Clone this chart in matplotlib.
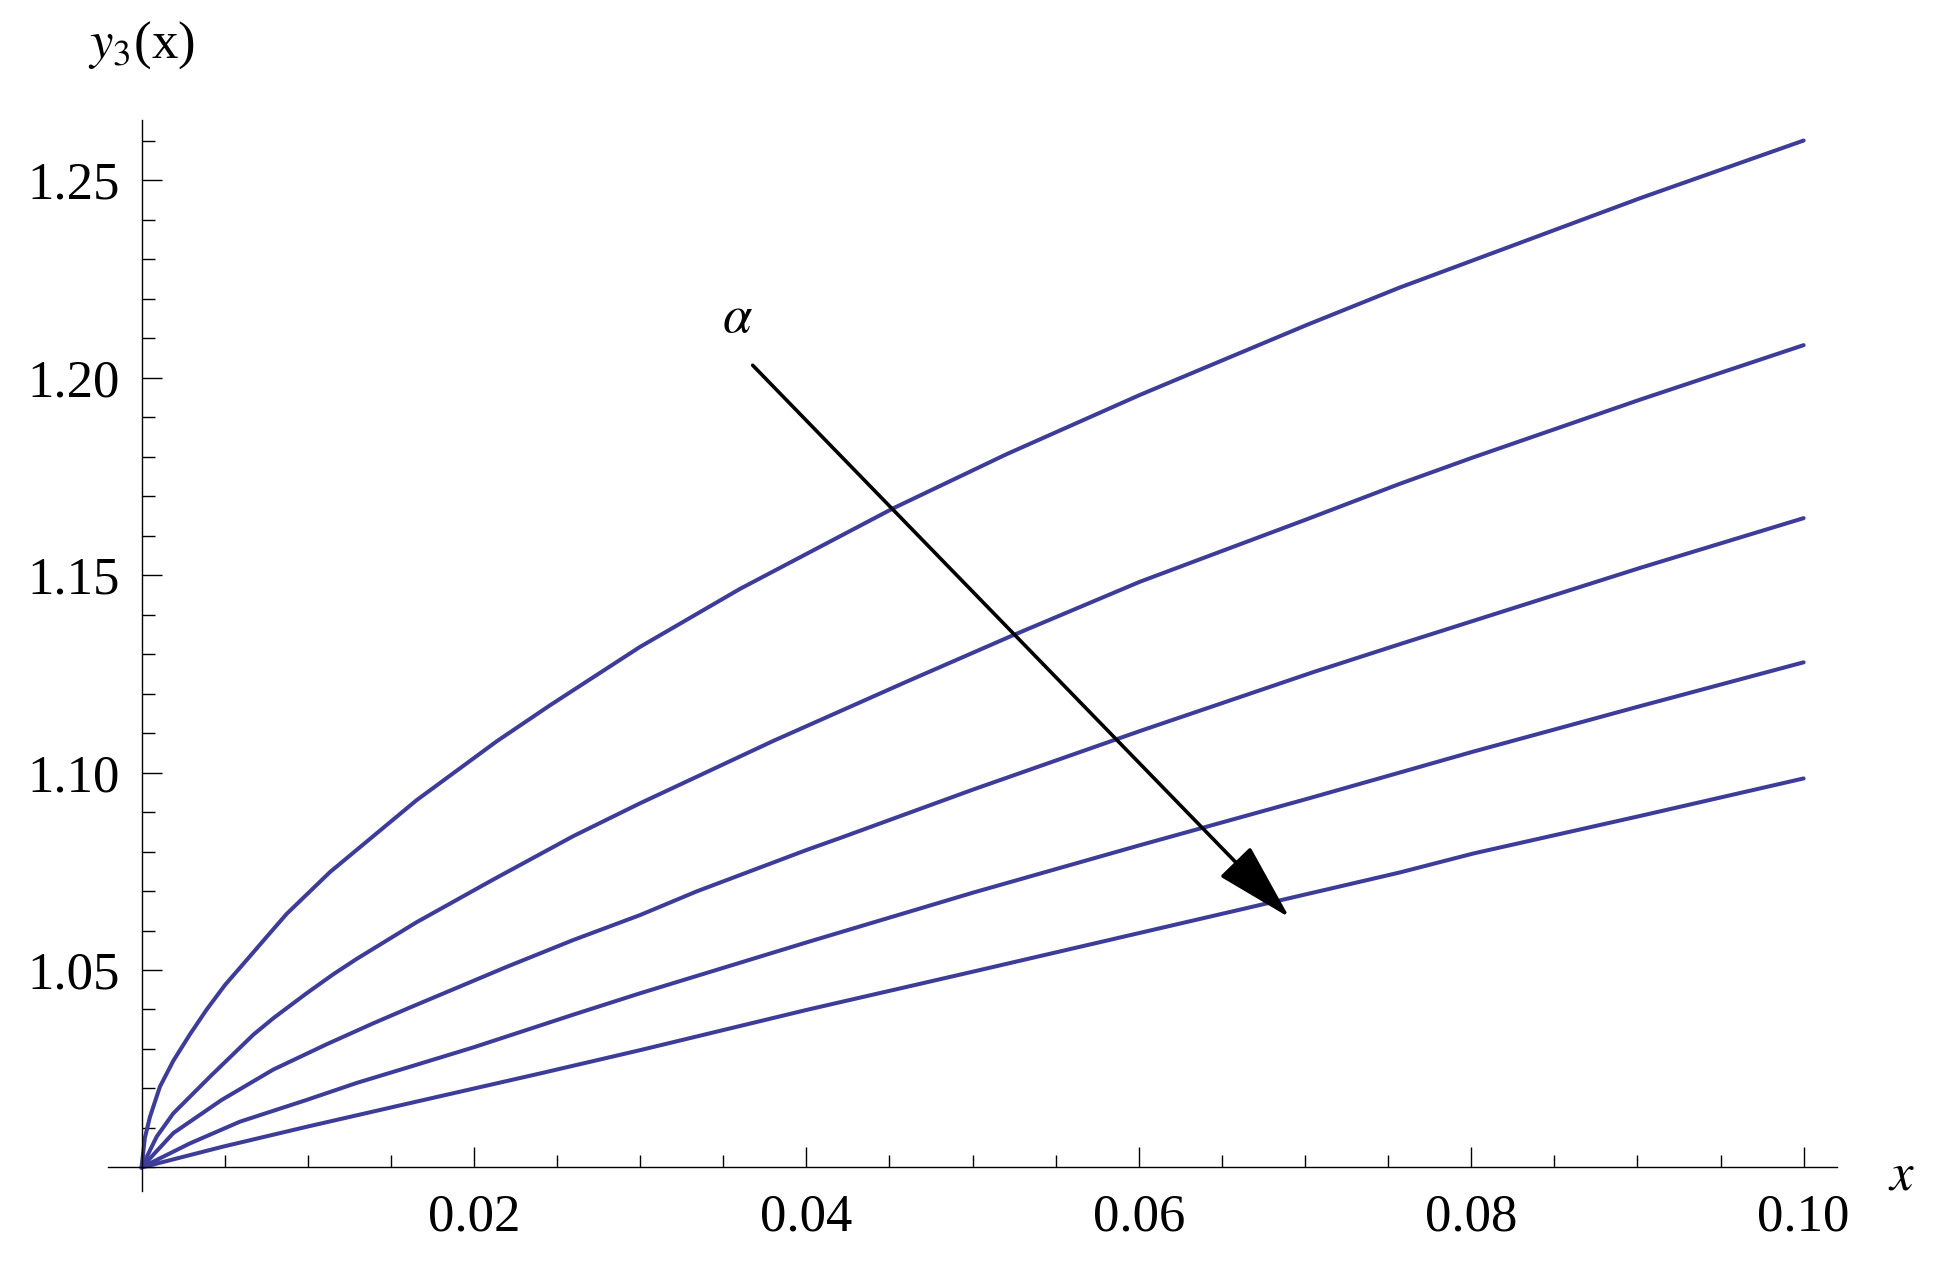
import matplotlib
matplotlib.use('Agg')
import matplotlib.pyplot as plt
from matplotlib.ticker import FixedLocator, MultipleLocator

plt.rcParams['font.family'] = ['Liberation Serif', 'DejaVu Serif']
plt.rcParams['mathtext.fontset'] = 'stix'

# ---- data ----
x1 = [0, 0.0002, 0.000505, 0.00111, 0.00191, 0.00291, 0.00392, 0.00502, 0.00632, 0.00753,
      0.00873, 0.01134, 0.01655, 0.02137, 0.02457, 0.02999, 0.03601, 0.04523, 0.05205,
      0.06007, 0.0701, 0.07571, 0.08013, 0.09016, 0.1]
y1 = [1.0, 1.0075, 1.0128, 1.0205, 1.0270, 1.0337, 1.0400, 1.0462, 1.0525, 1.0584,
      1.0642, 1.0748, 1.0930, 1.1079, 1.1170, 1.1318, 1.1465, 1.1669, 1.1806,
      1.1956, 1.2133, 1.2228, 1.2297, 1.2454, 1.2600]

x2 = [0, 0.00091, 0.00191, 0.00412, 0.00672, 0.00793, 0.00993, 0.01153, 0.01294, 0.01655,
      0.02116, 0.02598, 0.02999, 0.03801, 0.04603, 0.05235, 0.06007, 0.0701, 0.07571,
      0.08013, 0.09016, 0.1]
y2 = [1.0, 1.0078, 1.0137, 1.0230, 1.0336, 1.0378, 1.0441, 1.0489, 1.0528, 1.0621,
      1.0729, 1.0839, 1.0922, 1.1080, 1.1230, 1.1346, 1.1483, 1.1641, 1.1731,
      1.1798, 1.1944, 1.2082]

x3 = [0, 0.00191, 0.00482, 0.00793, 0.01114, 0.01394, 0.01615, 0.02197, 0.02598, 0.02999,
      0.03340, 0.04002, 0.04202, 0.05004, 0.06007, 0.07063, 0.07571, 0.09016, 0.1]
y3 = [1.0, 1.0087, 1.0171, 1.0248, 1.0312, 1.0365, 1.0405, 1.0508, 1.0576, 1.0639,
      1.0699, 1.0804, 1.0834, 1.0957, 1.1105, 1.1256, 1.1325, 1.1518, 1.1644]

x4 = [0, 0.00291, 0.00592, 0.00993, 0.01294, 0.01615, 0.01996, 0.02598, 0.02999, 0.04002,
      0.05004, 0.06007, 0.0701, 0.07571, 0.08013, 0.09016, 0.1]
y4 = [1.0, 1.0061, 1.0116, 1.0171, 1.0214, 1.0255, 1.0304, 1.0387, 1.0441, 1.0570,
      1.0696, 1.0816, 1.0933, 1.1000, 1.1053, 1.1168, 1.1279]

x5 = [0, 0.00492, 0.00993, 0.01615, 0.02397, 0.02999, 0.04002, 0.05004, 0.06007, 0.0701,
      0.07571, 0.08013, 0.09016, 0.1]
y5 = [1.0, 1.0053, 1.0103, 1.0163, 1.0238, 1.0297, 1.0399, 1.0496, 1.0594, 1.0692,
      1.0747, 1.0795, 1.0890, 1.0985]

x_ticks = [0.02, 0.04, 0.06, 0.08, 0.10]
x_tick_labels = ['0.02', '0.04', '0.06', '0.08', '0.10']
y_ticks = [1.05, 1.10, 1.15, 1.20, 1.25]
y_tick_labels = ['1.05', '1.10', '1.15', '1.20', '1.25']

arrow_start = (0.03677, 1.2031)
arrow_end = (0.06906, 1.0633)

line_color = (0.24, 0.24, 0.6)

fig = plt.figure(figsize=(19.42, 12.77), dpi=100)
ax = fig.add_axes([0.05551, 0.06735, 0.89027, 0.83868])
ax.set_xlim(-0.00203, 0.10199)
ax.set_ylim(0.99405, 1.2652)

for xs, ys in [(x1, y1), (x2, y2), (x3, y3), (x4, y4), (x5, y5)]:
    ax.plot(xs, ys, color=line_color, lw=2.9, solid_joinstyle='round',
            solid_capstyle='round', zorder=2)

ax.spines['left'].set_position(('data', 0))
ax.spines['bottom'].set_position(('data', 1.0))
ax.spines['top'].set_visible(False)
ax.spines['right'].set_visible(False)
for s in ('left', 'bottom'):
    ax.spines[s].set_linewidth(1.0)

ax.xaxis.set_major_locator(FixedLocator(x_ticks))
ax.set_xticklabels(x_tick_labels)
ax.xaxis.set_minor_locator(MultipleLocator(0.005))
ax.yaxis.set_major_locator(FixedLocator(y_ticks))
ax.set_yticklabels(y_tick_labels)
ax.yaxis.set_minor_locator(MultipleLocator(0.01))

ax.tick_params(which='both', direction='in', width=1.0, labelsize=38, colors='black')
ax.tick_params(which='major', length=14.4)
ax.tick_params(which='minor', length=9)
ax.tick_params(axis='y', which='major', pad=16)
ax.tick_params(axis='x', which='major', pad=19)

ax.annotate('', xy=arrow_end, xytext=arrow_start,
            arrowprops=dict(arrowstyle='-|>,head_length=4.97,head_width=1.35',
                            mutation_scale=10, lw=2.6, color='black',
                            shrinkA=0, shrinkB=0), zorder=5)

fig.text(737 / 1942, 1 - 319 / 1277, r'$\alpha$', ha='center', va='center', fontsize=38)
fig.text(1901 / 1942, 1 - 1176 / 1277, r'$x$', ha='center', va='center', fontsize=38)
fig.text(88 / 1942, 1 - 58 / 1277, r'$y_3$(x)', ha='left', va='baseline', fontsize=38)

fig.savefig('out.png', dpi=100, facecolor='white')
